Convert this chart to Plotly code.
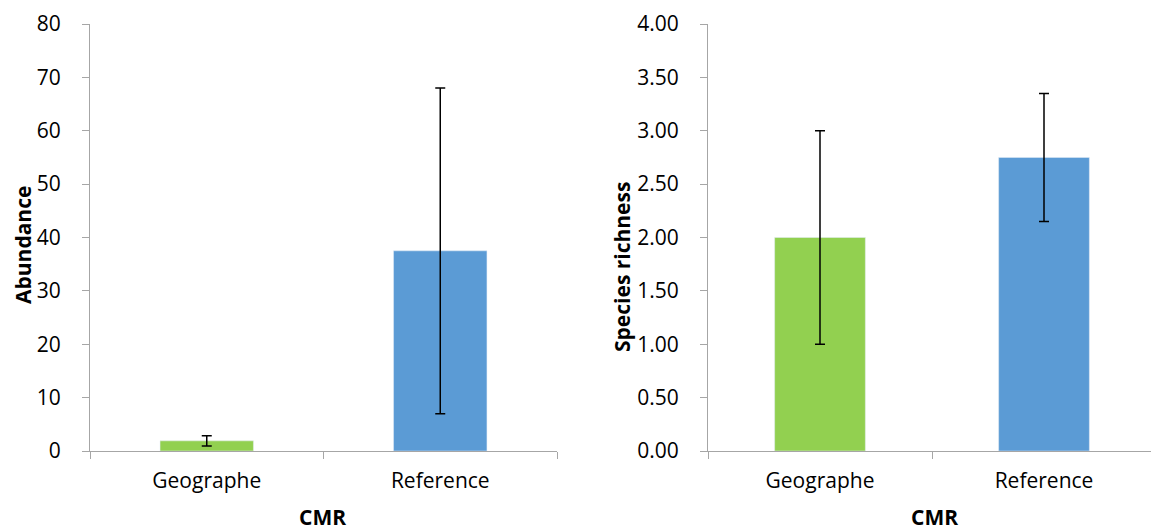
import plotly.graph_objects as go

categories = ["Geographe", "Reference"]
abundance = [1.9, 37.5]
abundance_err = [0.95, 30.5]
richness = [2.0, 2.75]
richness_err = [1.0, 0.6]
colors = ["#92D050", "#5B9BD5"]

FONT = "Open Sans"
AX = "#A6A6A6"
FS = 21
W, H = 1151, 530

def px(x):
    return x / W

def py(y):
    return 1 - y / H

fig = go.Figure()
fig.add_trace(go.Bar(x=categories, y=abundance, marker_color=colors, width=0.4,
                     error_y=dict(type="data", array=abundance_err, color="black", thickness=1.5, width=5),
                     xaxis="x", yaxis="y", showlegend=False))
fig.add_trace(go.Bar(x=categories, y=richness, marker_color=colors, width=0.405,
                     error_y=dict(type="data", array=richness_err, color="black", thickness=1.5, width=5),
                     xaxis="x2", yaxis="y2", showlegend=False))

ydom = [py(451), py(24)]
common_x = dict(showline=True, linecolor=AX, linewidth=1, ticks="outside", tickcolor=AX, ticklen=7,
                tickson="boundaries", showgrid=False, zeroline=False, automargin=False,
                tickfont=dict(family=FONT, size=FS, color="#000"), ticklabelstandoff=11)
common_y = dict(showline=True, linecolor=AX, linewidth=1, ticks="outside", tickcolor=AX, ticklen=7,
                showgrid=False, zeroline=False, automargin=False,
                tickfont=dict(family=FONT, size=FS, color="#000"), ticklabelstandoff=17)

ann_font = dict(family=FONT, size=FS, color="#000")
right_px = W - 708
fig.update_layout(
    width=W, height=H, autosize=False,
    margin=dict(l=0, r=0, t=0, b=0, pad=0, autoexpand=False),
    plot_bgcolor="white", paper_bgcolor="white",
    xaxis=dict(domain=[px(90), px(557)], range=[-0.5, 1.5], anchor="y", **common_x),
    yaxis=dict(domain=ydom, range=[0, 80], dtick=10, anchor="x", **common_y),
    xaxis2=dict(domain=[px(708), 1.0], range=[-0.5, -0.5 + right_px / 224], anchor="y2", **common_x),
    yaxis2=dict(domain=ydom, range=[0, 4], dtick=0.5, tickformat=".2f", anchor="x2", **common_y),
    annotations=[
        dict(text="<b>Abundance</b>", x=px(23), y=py(245), xref="paper", yref="paper",
             xanchor="center", yanchor="middle", textangle=-90, showarrow=False, font=ann_font),
        dict(text="<b>Species richness</b>", x=px(622), y=py(267), xref="paper", yref="paper",
             xanchor="center", yanchor="middle", textangle=-90, showarrow=False, font=ann_font),
        dict(text="<b>CMR</b>", x=px(322), y=py(517), xref="paper", yref="paper",
             xanchor="center", yanchor="middle", showarrow=False, font=ann_font),
        dict(text="<b>CMR</b>", x=px(934), y=py(517), xref="paper", yref="paper",
             xanchor="center", yanchor="middle", showarrow=False, font=ann_font),
    ],
)

fig.write_html("out.html", config={"displayModeBar": False},
               post_script="document.body.style.margin='0';document.body.style.overflow='hidden';")
